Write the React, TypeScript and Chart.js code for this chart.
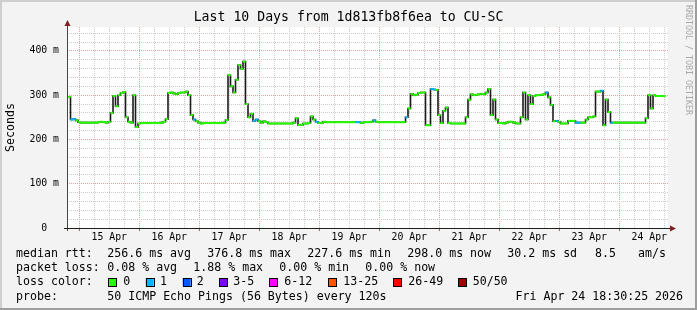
import React, { useEffect, useRef } from 'react';
import { Chart, registerables } from 'chart.js';

Chart.register(...registerables);

// Hours are counted from 15 Apr 00:00; one median RTT value (ms) per hour.
const START_HOUR = -4;
const X_MIN = -4.9;
const X_MAX = 235.5;
const Y_MAX = 454;

const RTT_APR14 = [296, 245, 246, 243];
const RTT_APR15 = [239, 238, 238, 238, 238, 238, 238, 238, 239, 240, 239, 238, 240, 260, 298, 275, 300, 305, 307, 250, 240, 238, 300, 228];
const RTT_APR16 = [236, 237, 237, 237, 237, 237, 237, 237, 237, 238, 240, 246, 305, 306, 304, 302, 305, 306, 306, 308, 300, 255, 245, 241];
const RTT_APR17 = [238, 236, 237, 237, 237, 237, 237, 237, 237, 237, 238, 244, 345, 320, 306, 335, 368, 360, 376, 280, 250, 258, 242, 245];
const RTT_APR18 = [241, 238, 241, 239, 236, 236, 236, 236, 236, 236, 236, 236, 236, 236, 238, 248, 233, 233, 236, 236, 237, 252, 245, 240];
const RTT_APR19 = [237, 237, 240, 239, 239, 239, 239, 239, 239, 239, 239, 239, 239, 239, 239, 239, 239, 237, 239, 239, 239, 240, 243, 240];
const RTT_APR20 = [239, 239, 239, 239, 239, 239, 239, 239, 239, 239, 239, 250, 270, 303, 300, 301, 305, 306, 306, 232, 232, 314, 313, 312];
const RTT_APR21 = [255, 237, 265, 272, 237, 236, 236, 236, 236, 236, 236, 250, 290, 302, 300, 301, 302, 303, 302, 306, 314, 255, 290, 245];
const RTT_APR22 = [237, 237, 236, 238, 240, 240, 238, 236, 236, 250, 306, 245, 300, 280, 298, 300, 300, 301, 302, 306, 295, 278, 241, 242];
const RTT_APR23 = [240, 236, 236, 236, 242, 242, 242, 238, 238, 238, 238, 245, 250, 250, 252, 308, 308, 310, 232, 290, 262, 238, 238, 238];
const RTT_APR24 = [238, 238, 238, 238, 238, 238, 238, 238, 238, 238, 238, 248, 300, 270, 300, 298, 298, 298, 298];

// hours where 1 of 50 pings was lost
const LOSS1_HOURS = [-3, -2, 46, 70, 71, 95, 111, 112, 118, 131, 141, 142, 187, 191, 199, 200, 209, 213];

const DAY_LABELS = ['15 Apr', '16 Apr', '17 Apr', '18 Apr', '19 Apr', '20 Apr', '21 Apr', '22 Apr', '23 Apr', '24 Apr'];

const TITLE = 'Last 10 Days from 1d813fb8f6ea to CU-SC';
const Y_TITLE = 'Seconds';
const WATERMARK = 'RRDTOOL / TOBI OETIKER';

const LEGEND_RTT: [string, number][] = [
  ['median rtt:', 16],
  ['256.6 ms avg', 107.3],
  ['376.8 ms max', 207.3],
  ['227.6 ms min', 307.3],
  ['298.0 ms now', 407.3],
  ['30.2 ms sd', 507.3],
  ['8.5', 595],
  ['am/s', 638],
];
const LEGEND_LOSS: [string, number][] = [
  ['packet loss:', 16],
  ['0.08 % avg', 107.3],
  ['1.88 % max', 193.3],
  ['0.00 % min', 279.3],
  ['0.00 % now', 365.3],
];
const LOSS_COLORS: [string, string, number, number][] = [
  ['0', '#26ff00', 108.3, 123.3],
  ['1', '#00b8ff', 145.7, 160],
  ['2', '#0059ff', 182.7, 196.7],
  ['3-5', '#7e00ff', 219.3, 233.3],
  ['6-12', '#ff00ff', 269.3, 284.3],
  ['13-25', '#ff5500', 328.3, 343.3],
  ['26-49', '#ff0000', 393.3, 408.3],
  ['50/50', '#a10000', 458.3, 472.7],
];
const PROBE_LINE: [string, number][] = [
  ['probe:', 16],
  ['50 ICMP Echo Pings (56 Bytes) every 120s', 107.3],
  ['Fri Apr 24 18:30:25 2026', 515.5],
];

const MONO = '"DejaVu Sans Mono", monospace';
const GREEN = '#26ff00';
const CYAN = '#00b8ff';
const MINOR_GRID = '#cbcbcb';
const MAJOR_GRID = '#eea0a0';

const RTT_ALL = [
  ...RTT_APR14, ...RTT_APR15, ...RTT_APR16, ...RTT_APR17, ...RTT_APR18,
  ...RTT_APR19, ...RTT_APR20, ...RTT_APR21, ...RTT_APR22, ...RTT_APR23, ...RTT_APR24,
];

const framePlugin = {
  id: 'rrdFrame',
  beforeDraw(chart: any) {
    const { ctx, width, height, chartArea: a } = chart;
    ctx.save();
    ctx.fillStyle = '#f3f3f3';
    ctx.fillRect(0, 0, width, height);
    // 3D frame
    ctx.fillStyle = '#cfcfcf';
    ctx.fillRect(0, 0, width, 2);
    ctx.fillRect(0, 0, 2, height);
    ctx.fillStyle = '#9e9e9e';
    ctx.fillRect(0, height - 2, width, 2);
    ctx.fillRect(width - 2, 0, 2, height);
    ctx.fillStyle = '#ffffff';
    ctx.fillRect(a.left, a.top, a.right - a.left, a.bottom - a.top);
    ctx.restore();
  },
  afterDraw(chart: any) {
    const { ctx, chartArea: a } = chart;
    ctx.save();
    // axes
    ctx.lineWidth = 1;
    ctx.strokeStyle = '#444444';
    ctx.beginPath();
    ctx.moveTo(a.left + 0.5, a.bottom + 3);
    ctx.lineTo(a.left + 0.5, a.top - 5);
    ctx.stroke();
    ctx.strokeStyle = '#1f1f1f';
    ctx.beginPath();
    ctx.moveTo(a.left - 3, a.bottom + 0.5);
    ctx.lineTo(a.right + 4, a.bottom + 0.5);
    ctx.stroke();
    // arrows
    ctx.fillStyle = '#7f1f1f';
    ctx.beginPath();
    ctx.moveTo(a.left - 2.5, a.top - 1);
    ctx.lineTo(a.left + 0.5, a.top - 7);
    ctx.lineTo(a.left + 3.5, a.top - 1);
    ctx.closePath();
    ctx.fill();
    ctx.beginPath();
    ctx.moveTo(a.right + 2, a.bottom - 2.5);
    ctx.lineTo(a.right + 8, a.bottom + 0.5);
    ctx.lineTo(a.right + 2, a.bottom + 3.5);
    ctx.closePath();
    ctx.fill();

    // title
    ctx.fillStyle = '#000';
    ctx.textBaseline = 'middle';
    ctx.textAlign = 'center';
    ctx.font = `13.2px ${MONO}`;
    ctx.fillText(TITLE, 348.5, 18);

    // y title
    ctx.save();
    ctx.font = `11.6px ${MONO}`;
    ctx.translate(10.5, (a.top + a.bottom) / 2);
    ctx.rotate(-Math.PI / 2);
    ctx.fillText(Y_TITLE, 0, 0);
    ctx.restore();

    // watermark
    ctx.save();
    ctx.font = `8.3px ${MONO}`;
    ctx.fillStyle = '#a8a8a8';
    ctx.textAlign = 'left';
    ctx.translate(688.3, 5);
    ctx.rotate(Math.PI / 2);
    ctx.fillText(WATERMARK, 0, 0);
    ctx.restore();

    // legend
    ctx.font = `11.6px ${MONO}`;
    ctx.textAlign = 'left';
    ctx.fillStyle = '#000';
    LEGEND_RTT.forEach(([t, x]) => ctx.fillText(t, x, 254.3));
    LEGEND_LOSS.forEach(([t, x]) => ctx.fillText(t, x, 268.3));
    ctx.fillText('loss color:', 16, 282.3);
    LOSS_COLORS.forEach(([t, c, bx, tx]) => {
      ctx.fillStyle = c;
      ctx.fillRect(bx, 278, 8, 8);
      ctx.strokeStyle = '#000';
      ctx.lineWidth = 1;
      ctx.strokeRect(Math.round(bx) + 0.5, 278.5, 8, 8);
      ctx.fillStyle = '#000';
      ctx.fillText(t, tx, 282.3);
    });
    PROBE_LINE.forEach(([t, x]) => ctx.fillText(t, x, 296.7));
    ctx.restore();
  },
};

export default function App() {
  const ref = useRef<HTMLCanvasElement>(null);

  useEffect(() => {
    document.body.style.margin = '0';
    const points = RTT_ALL.map((v, i) => ({ x: START_HOUR + i, y: v }));
    const lossColor = (c: any) =>
      LOSS1_HOURS.includes(START_HOUR + c.dataIndex) ? CYAN : GREEN;

    const chart = new Chart(ref.current as HTMLCanvasElement, {
      type: 'line',
      data: {
        datasets: [
          {
            label: 'median rtt',
            data: points,
            showLine: false,
            pointStyle: 'line',
            pointRadius: 1.45,
            pointHoverRadius: 1.45,
            pointBorderWidth: 2,
            pointBorderColor: lossColor,
            pointBackgroundColor: lossColor,
            order: 0,
          },
          {
            label: 'smoke',
            data: points,
            borderColor: '#1c1c1c',
            borderWidth: 1.6,
            stepped: 'middle',
            pointRadius: 0,
            fill: false,
            order: 1,
          },
        ],
      } as any,
      options: {
        responsive: false,
        devicePixelRatio: 1,
        animation: false,
        events: [],
        layout: {
          autoPadding: false,
          padding: { left: 0, right: 29, top: 27, bottom: 62 },
        } as any,
        plugins: {
          legend: { display: false },
          tooltip: { enabled: false },
          title: { display: false },
        },
        scales: {
          x: {
            type: 'linear',
            min: X_MIN,
            max: X_MAX,
            afterFit: (s: any) => { s.height = 20; },
            ticks: {
              stepSize: 6,
              autoSkip: false,
              maxRotation: 0,
              minRotation: 0,
              includeBounds: false,
              padding: 1,
              color: '#000',
              font: { family: MONO, size: 9.8 },
              callback: (v: any) => {
                const n = Number(v);
                return ((n % 24) + 24) % 24 === 12 ? DAY_LABELS[(n - 12) / 24] ?? '' : '';
              },
            },
            grid: {
              lineWidth: 1,
              color: (c: any) => (c.tick && c.tick.value % 24 === 0 ? MAJOR_GRID : MINOR_GRID),
              drawTicks: true,
              tickLength: 3,
              tickColor: (c: any) => (c.tick && c.tick.value % 24 === 0 ? '#d05050' : 'rgba(0,0,0,0)'),
              tickBorderDash: [],
            },
            border: { display: false, dash: [1, 1] },
          },
          y: {
            type: 'linear',
            min: 0,
            max: Y_MAX,
            afterFit: (s: any) => { s.width = 67; },
            ticks: {
              stepSize: 20,
              includeBounds: false,
              autoSkip: false,
              padding: 8,
              color: '#000',
              font: { family: MONO, size: 9.8 },
              callback: (v: any) => {
                const n = Number(v);
                if (n % 100 !== 0) return '';
                return n === 0 ? '0  ' : `${n} m`;
              },
            },
            grid: {
              lineWidth: 1,
              color: (c: any) => {
                const v = c.tick ? c.tick.value : 1;
                if (v === 0) return 'rgba(0,0,0,0)';
                return v % 100 === 0 ? MAJOR_GRID : MINOR_GRID;
              },
              drawTicks: false,
            },
            border: { display: false, dash: [1, 1] },
          },
        },
      } as any,
      plugins: [framePlugin],
    });
    return () => chart.destroy();
  }, []);

  return (
    <div style={{ width: 697, height: 310 }}>
      <canvas ref={ref} width={697} height={310} style={{ display: 'block', width: 697, height: 310 }} />
    </div>
  );
}
